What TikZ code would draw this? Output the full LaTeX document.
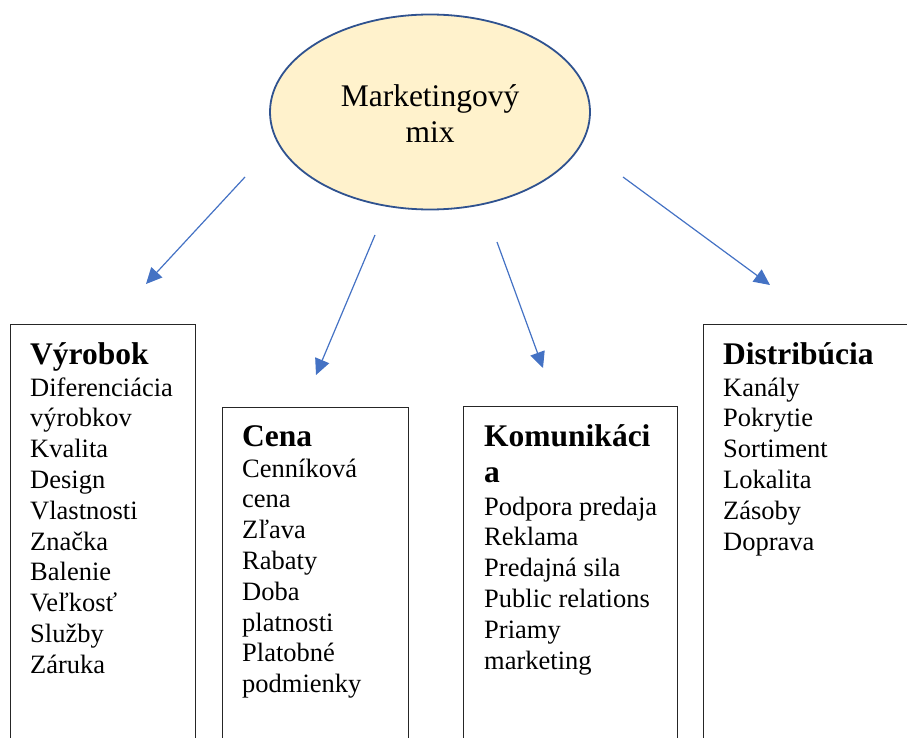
\documentclass[tikz,border=0pt]{standalone}
\usepackage{fontspec}
\setmainfont{Liberation Serif}
\usetikzlibrary{shapes.geometric,arrows.meta}
\definecolor{mixfill}{HTML}{FFF2CC}
\definecolor{mixline}{HTML}{2F528F}
\definecolor{arrowblue}{HTML}{4472C4}
\begin{document}
\begin{tikzpicture}[x=1pt,y=-1pt,
  mixnode/.style={ellipse, draw=mixline, line width=1.8pt, fill=mixfill,
    minimum width=320pt, minimum height=195pt, inner sep=0pt},
  mixtext/.style={align=center, inner sep=0pt, font=\fontsize{31.5}{36}\selectfont},
  catbox/.style={draw=black!85, line width=0.9pt, anchor=north west, inner sep=0pt},
  head/.style={anchor=base west, inner sep=0pt, font=\fontsize{31.5}{36}\selectfont\bfseries},
  item/.style={anchor=base west, inner sep=0pt, font=\fontsize{26.5}{30.8}\selectfont},
  link/.style={draw=arrowblue, line width=1.2pt, -{Triangle[length=16pt,width=15pt]}}]
\useasboundingbox (0,0) rectangle (907,738);
\clip (0,0) rectangle (907,738);

% central ellipse with its two-line caption
\node[mixnode] (mix) at (430,112) {};
\node[mixtext] (mixlabel) at (430,114) {Marketingový\\mix};

% category boxes (open towards the bottom edge)
\node[catbox, minimum width=185pt, minimum height=440pt] (boxV) at (10,324) {};
\node[catbox, minimum width=186pt, minimum height=360pt] (boxC) at (222,407) {};
\node[catbox, minimum width=214pt, minimum height=360pt] (boxK) at (463,406) {};
\node[catbox, minimum width=220pt, minimum height=440pt] (boxD) at (703,324) {};

% arrows from the ellipse to the categories
\coordinate (s1) at (245,177); \coordinate (e1) at (146,284);
\coordinate (s2) at (375,235); \coordinate (e2) at (316,375);
\coordinate (s3) at (497,242); \coordinate (e3) at (543,368);
\coordinate (s4) at (623,177); \coordinate (e4) at (770,285);
\draw[link] (s1) -- (e1);
\draw[link] (s2) -- (e2);
\draw[link] (s3) -- (e3);
\draw[link] (s4) -- (e4);

% Výrobok
\node[head] (hV) at (30,364) {Výrobok};
\foreach \t [count=\i from 0] in {Diferenciácia, výrobkov, Kvalita, Design,
  Vlastnosti, Značka, Balenie, Veľkosť, Služby, Záruka}
  \node[item] (v\i) at (30,{396+30.8*\i}) {\t};

% Cena
\node[head] (hC) at (242,446) {Cena};
\foreach \t [count=\i from 0] in {Cenníková, cena, Zľava, Rabaty, Doba,
  platnosti, Platobné, podmienky}
  \node[item] (c\i) at (242,{477+30.8*\i}) {\t};

% Komunikácia
\node[head] (hK1) at (484,446) {Komunikáci};
\node[head] (hK2) at (484,482) {a};
\foreach \t [count=\i from 0] in {Podpora predaja, Reklama, Predajná sila,
  Public relations, Priamy, marketing}
  \node[item] (k\i) at (484,{515+30.8*\i}) {\t};

% Distribúcia
\node[head] (hD) at (723,364) {Distribúcia};
\foreach \t [count=\i from 0] in {Kanály, Pokrytie, Sortiment, Lokalita,
  Zásoby, Doprava}
  \node[item] (d\i) at (723,{396+30.8*\i}) {\t};
\end{tikzpicture}
\end{document}
